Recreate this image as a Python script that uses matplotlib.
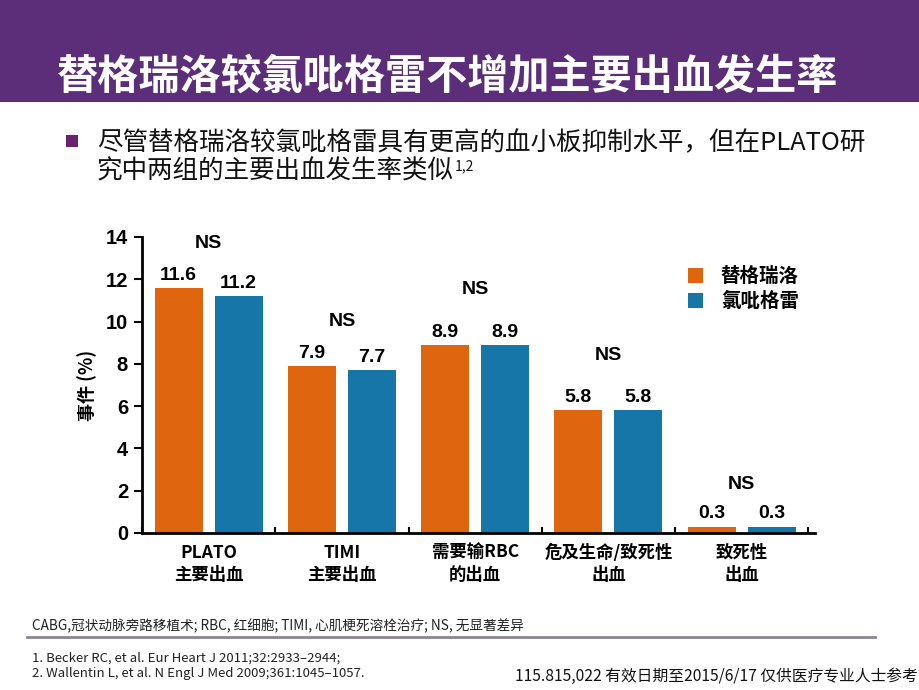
import matplotlib
matplotlib.use("Agg")
import matplotlib.pyplot as plt
from matplotlib.patches import Rectangle
from matplotlib.lines import Line2D
import numpy as np

plt.rcParams['font.family'] = ['Noto Sans CJK SC', 'DejaVu Sans']

# ---- data ----
categories = ["PLATO\n主要出血", "TIMI\n主要出血", "需要输RBC\n的出血", "危及生命/致死性\n出血", "致死性\n出血"]
ticagrelor = [11.6, 7.9, 8.9, 5.8, 0.3]
clopidogrel = [11.2, 7.7, 8.9, 5.8, 0.3]
series_names = ["替格瑞洛", "氯吡格雷"]
significance = ["NS", "NS", "NS", "NS", "NS"]
ns_offsets = [2.1, 2.1, 2.6, 2.6, 2.0]
yticks = [0, 2, 4, 6, 8, 10, 12, 14]

ORANGE = "#E0650F"
BLUE = "#1776A8"
PURPLE = "#5C2D78"

W, H = 920, 690
fig = plt.figure(figsize=(W / 100, H / 100), dpi=100)

def fx(px):
    return px / W

def fy(py):
    return 1 - py / H

# header band
fig.patches.append(Rectangle((0, fy(102)), 1, 102 / H, transform=fig.transFigure,
                             facecolor=PURPLE, edgecolor='none', zorder=0))
fig.text(fx(57), fy(77), "替格瑞洛较氯吡格雷不增加主要出血发生率", color='white',
         fontsize=29.6, fontweight='bold', va='center', ha='left')

# bullet
fig.patches.append(Rectangle((fx(66), fy(147)), 12 / W, 12 / H, transform=fig.transFigure,
                             facecolor="#6B1F6F", edgecolor='none'))
fig.text(fx(97), fy(143), "尽管替格瑞洛较氯吡格雷具有更高的血小板抑制水平，但在PLATO研",
         fontsize=18.4, va='center', ha='left', color='#111111')
t2 = fig.text(fx(97), fy(172), "究中两组的主要出血发生率类似",
              fontsize=18.4, va='center', ha='left', color='#111111')
fig.canvas.draw()
bb = t2.get_window_extent()
fig.text(bb.x1 / W + 1 / W, fy(166), "1,2", fontsize=10, va='center', ha='left', color='#111111')

# axes
left, right, bottom, top = 142, 815, 533, 237
ax = fig.add_axes([fx(left), fy(bottom), (right - left) / W, (bottom - top) / H])
x = np.arange(len(categories))
bw = 0.36
off = 0.225
b1 = ax.bar(x - off, ticagrelor, bw, color=ORANGE, label=series_names[0], zorder=2)
b2 = ax.bar(x + off, clopidogrel, bw, color=BLUE, label=series_names[1], zorder=2)

for bars in (b1, b2):
    for r in bars:
        ax.annotate(f"{r.get_height():.1f}", (r.get_x() + r.get_width() / 2, r.get_height()),
                    xytext=(0, 3), textcoords='offset points', ha='center', va='bottom',
                    fontsize=14, fontweight='bold', family=['Liberation Sans', 'DejaVu Sans'])

for i, s in enumerate(significance):
    yv = max(ticagrelor[i], clopidogrel[i]) + ns_offsets[i]
    ax.text(x[i], yv, s, ha='center', va='center', fontsize=14, fontweight='bold',
            family=['Liberation Sans', 'DejaVu Sans'])

ax.set_xlim(-0.5, 4.55)
ax.set_ylim(0, 14)
ax.set_yticks(yticks)
ax.set_yticklabels([str(t) for t in yticks], fontsize=14.5, fontweight='bold',
                   family=['Liberation Sans', 'DejaVu Sans'])
ax.set_xticks(x)
ax.set_xticklabels(categories, fontsize=12.5, fontweight='bold', linespacing=1.3)
ax.set_xticks(np.arange(-0.5, 5, 1), minor=True)
ax.tick_params(axis='x', which='major', length=0, pad=8)
ax.tick_params(axis='x', which='minor', direction='in', length=4, width=1.5)
ax.tick_params(axis='y', which='major', direction='out', length=6, width=1.5, pad=4)
for s in ('top', 'right'):
    ax.spines[s].set_visible(False)
ax.spines['left'].set_linewidth(2)
ax.spines['bottom'].set_linewidth(2)
ax.set_ylabel("事件 (%)", fontsize=13, fontweight='bold', labelpad=6)

leg = fig.legend(handles=[b1, b2], labels=series_names, loc='upper left',
                 bbox_to_anchor=(fx(680), fy(259)), frameon=False,
                 prop={'size': 14, 'weight': 'bold'}, handlelength=0.8, handleheight=0.8,
                 labelspacing=0.3, handletextpad=0.9, borderaxespad=0)

# footnotes
fig.text(fx(32), fy(626), "CABG,冠状动脉旁路移植术; RBC, 红细胞; TIMI, 心肌梗死溶栓治疗; NS, 无显著差异",
         fontsize=9.8, va='center', ha='left', color='#222222')
fig.add_artist(Line2D([fx(27), fx(875)], [fy(637), fy(637)], transform=fig.transFigure,
                      color='#8C8494', linewidth=2))
fig.text(fx(32), fy(658), "1. Becker RC, et al. Eur Heart J 2011;32:2933–2944;",
         fontsize=9.5, va='center', ha='left', color='#222222')
fig.text(fx(32), fy(674), "2. Wallentin L, et al. N Engl J Med 2009;361:1045–1057.",
         fontsize=9.5, va='center', ha='left', color='#222222')
fig.text(fx(918), fy(676), "115.815,022 有效日期至2015/6/17 仅供医疗专业人士参考",
         fontsize=11.3, va='center', ha='right', color='#111111')

fig.savefig("out.png", dpi=100)
